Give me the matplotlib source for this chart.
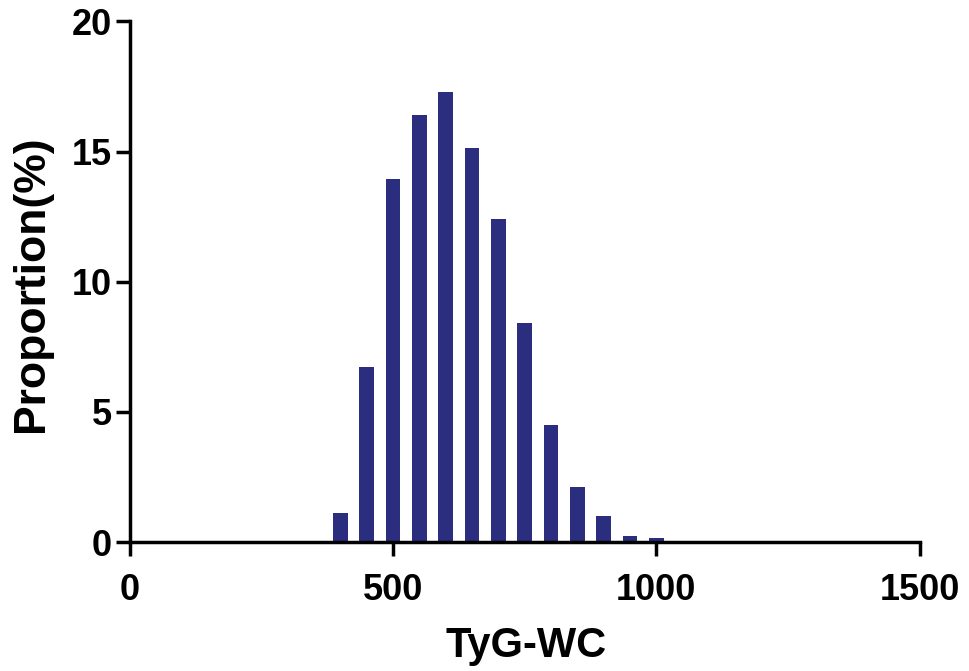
import matplotlib
matplotlib.use('Agg')
import matplotlib.pyplot as plt

# bin centres of TyG-WC and share of participants (%)
bins = [400, 450, 500, 550, 600, 650, 700, 750, 800, 850, 900, 950, 1000]
proportion = [1.13, 6.72, 13.95, 16.42, 17.28, 15.14, 12.42, 8.40, 4.49, 2.10, 1.00, 0.23, 0.15]

xticks = [0, 500, 1000, 1500]
yticks = [0, 5, 10, 15, 20]

plt.rcParams['font.family'] = ['Liberation Sans', 'DejaVu Sans']

fig = plt.figure(figsize=(9.69, 6.71), dpi=100)
ax = fig.add_axes([0.134, 0.192, 0.815, 0.776])

ax.bar(bins, proportion, width=28, color='#2b2e7e', zorder=2)

ax.set_xlim(0, 1500)
ax.set_ylim(0, 20)
ax.set_xticks(xticks)
ax.set_yticks(yticks)

for s in ['top', 'right']:
    ax.spines[s].set_visible(False)
for s in ['left', 'bottom']:
    ax.spines[s].set_linewidth(2.5)
    ax.spines[s].set_zorder(3)

ax.tick_params(axis='both', width=2.5, length=10, direction='out', labelsize=26)
ax.tick_params(axis='x', pad=12)
ax.tick_params(axis='y', pad=3)
for lab in ax.get_xticklabels() + ax.get_yticklabels():
    lab.set_fontweight('bold')

# axis titles placed directly on the figure
fig.text(0.543, 0.021, 'TyG-WC', fontsize=30, fontweight='bold',
         ha='center', va='baseline')
fig.text(0.033, 0.577, 'Proportion(%)', fontsize=32, fontweight='bold',
         ha='center', va='center', rotation=90)

fig.savefig('out.png', dpi=100)
